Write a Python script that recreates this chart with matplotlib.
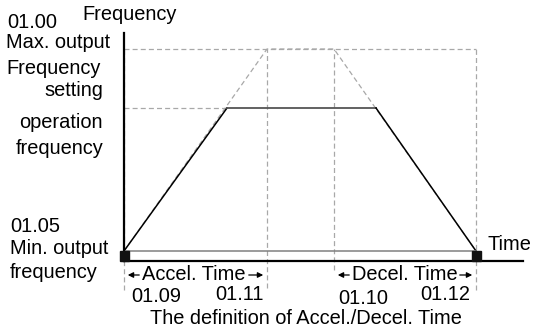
import matplotlib.pyplot as plt
from matplotlib.patches import Rectangle

plt.rcParams['font.family'] = ['Liberation Sans', 'DejaVu Sans']

# time / frequency in drawing units (origin = start of acceleration at min. frequency)
set_time = [0, 103, 252, 352]        # solid profile up to setting frequency
set_freq = [0, 143, 143, 0]
max_time = [0, 143, 210, 352]        # dashed profile up to max. output frequency
max_freq = [0, 202, 202, 0]
f_max = 202
f_set = 143
t_end = 352
accel_span = [0, 143]
decel_span = [210, 352]
param_labels = ["01.09", "01.11", "01.10", "01.12"]

fig = plt.figure(figsize=(5.33, 3.31), dpi=100)
ax = fig.add_axes([0, 0, 1, 1])
ax.set_xlim(-124, 409)
ax.set_ylim(-80, 251)
ax.axis("off")

dash = dict(color="#a8a8a8", lw=0.9, ls=(0, (4, 2.5)))
fs = 14.4

# dashed guides
ax.plot([0, t_end], [f_max, f_max], **dash)
ax.plot([0, set_time[1]], [f_set, f_set], **dash)
for x, y0 in zip([0, max_time[1], max_time[2], t_end], [-39, -37, -19, -39]):
    ax.plot([x, x], [y0, f_max], **dash)
ax.plot(max_time, max_freq, **dash)

# profile
ax.plot(set_time[:2], set_freq[:2], color="black", lw=1.1)
ax.plot(set_time[1:3], set_freq[1:3], color="#555555", lw=1.3)
ax.plot(set_time[2:], set_freq[2:], color="black", lw=1.1)
ax.plot([0, t_end], [0, 0], color="#808080", lw=1.1)

# axes
ax.plot([0, 0], [-10, 218], color="black", lw=1.6)
ax.plot([0, 399], [-10, -10], color="black", lw=1.6)
for x in [0, t_end]:
    ax.add_patch(Rectangle((x - 4.5, -10), 9, 10, color="#111111", zorder=5))

# left labels
ax.text(-117, 229, "01.00", fontsize=fs, va="center")
ax.text(-42, 236, "Frequency", fontsize=fs, va="center")
ax.text(-118, 208, "Max. output", fontsize=fs, va="center")
ax.text(-118, 183, "Frequency", fontsize=fs, va="center")
for y, s in zip([161, 129, 103], ["setting", "operation", "frequency"]):
    ax.text(-21, y, s, fontsize=fs, va="center", ha="right")
ax.text(-114, 24, "01.05", fontsize=fs, va="center")
ax.text(-114, 2, "Min. output", fontsize=fs, va="center")
ax.text(-114, -22, "frequency", fontsize=fs, va="center")
ax.text(364, 6, "Time", fontsize=fs, va="center")

# accel / decel spans
arw = dict(arrowstyle="-|>", color="black", lw=0.9, mutation_scale=8)
ax.text(70, -24, "Accel. Time", fontsize=fs, va="center", ha="center")
ax.annotate("", xy=(accel_span[0] + 1, -24), xytext=(18, -24), arrowprops=arw)
ax.annotate("", xy=(accel_span[1] - 1, -24), xytext=(122, -24), arrowprops=arw)
ax.text(281, -24, "Decel. Time", fontsize=fs, va="center", ha="center")
ax.annotate("", xy=(decel_span[0] + 1, -24), xytext=(228, -24), arrowprops=arw)
ax.annotate("", xy=(decel_span[1] - 1, -24), xytext=(333, -24), arrowprops=arw)

for x, y, s in zip([32, 116, 239, 321], [-45, -43, -47, -44], param_labels):
    ax.text(x, y, s, fontsize=fs, va="center", ha="center")

ax.text(182, -68, "The definition of Accel./Decel. Time", fontsize=fs,
        va="center", ha="center")

fig.savefig("out.png", dpi=100)
